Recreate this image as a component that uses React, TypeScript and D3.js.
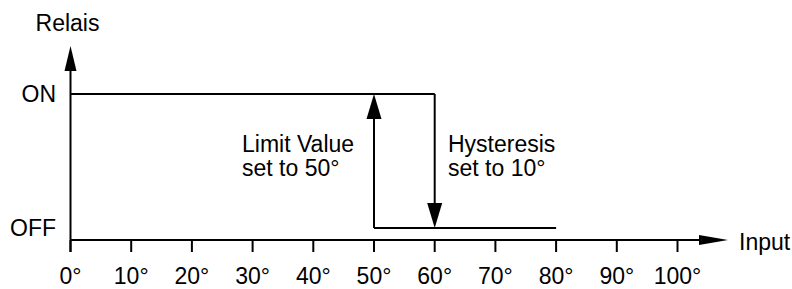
import React from "react";
import * as d3 from "d3";

// Input axis ticks (degrees)
const inputTicks = [0, 10, 20, 30, 40, 50, 60, 70, 80, 90, 100];

// Relay states: 0 = OFF, 1 = ON
const stateLabels = ["OFF", "ON"];

// Relay ON line, then switch-off at limit + hysteresis
const onLine = [
    { input: 0, state: 1 },
    { input: 60, state: 1 },
];

// Relay OFF line after switching
const offLine = [
    { input: 50, state: 0 },
    { input: 80, state: 0 },
];

// Transition arrows: [input, fromState, toState]
const switchArrows = [
    { input: 50, from: 0, to: 1 },
    { input: 60, from: 1, to: 0 },
];

const limitText = ["Limit Value", "set to 50°"];
const hysteresisText = ["Hysteresis", "set to 10°"];

const WIDTH = 792;
const HEIGHT = 289;
const FONT = "'Liberation Sans', Arial, Helvetica, sans-serif";

export default function App(): React.ReactElement {
    const x = d3.scaleLinear().domain([0, 100]).range([70.5, 677.5]);
    const y = d3.scaleLinear().domain([0, 1]).range([228, 94]);

    const axisY = 240;
    const x0 = x(0);

    const line = d3.line<{ input: number; state: number }>()
        .x((d) => x(d.input))
        .y((d) => y(d.state));

    // arrow head polygon with tip at (tx, ty), pointing in direction (dx, dy)
    const head = (tx: number, ty: number, dx: number, dy: number, len: number, half: number): string => {
        const bx = tx - dx * len;
        const by = ty - dy * len;
        const px = -dy * half;
        const py = dx * half;
        return `${tx},${ty} ${bx + px},${by + py} ${bx - px},${by - py}`;
    };

    return (
        <svg
            width={WIDTH}
            height={HEIGHT}
            style={{ position: "absolute", left: 0, top: 0, background: "#fff" }}
            fontFamily={FONT}
            fontSize={23}
        >
            {/* Y axis with arrow */}
            <line x1={x0} x2={x0} y1={252} y2={62} stroke="#000" strokeWidth={2} />
            <polygon points={head(x0, 46, 0, -1, 25, 6)} fill="#000" />
            <text x={x0 - 3} y={31} textAnchor="middle">Relais</text>

            {/* X axis with arrow */}
            <line x1={x0} x2={712} y1={axisY} y2={axisY} stroke="#000" strokeWidth={2} />
            <polygon points={head(728, axisY, 1, 0, 29, 5)} fill="#000" />
            <text x={739} y={250}>Input</text>

            {inputTicks.map((t) => (
                <g key={t} transform={`translate(${x(t)},0)`}>
                    <line y1={axisY} y2={252} stroke="#000" strokeWidth={2} />
                    <text y={284} textAnchor="middle">{`${t}°`}</text>
                </g>
            ))}

            {stateLabels.map((s, i) => (
                <text key={s} x={56} y={y(i)} dy="0.35em" textAnchor="end">{s}</text>
            ))}

            {/* Relay characteristic */}
            <path d={line(onLine) ?? ""} fill="none" stroke="#000" strokeWidth={2} />
            <path d={line(offLine) ?? ""} fill="none" stroke="#000" strokeWidth={2} />

            {switchArrows.map((a) => {
                const dir = a.to > a.from ? -1 : 1;
                const tipY = y(a.to);
                return (
                    <g key={a.input}>
                        <line
                            x1={x(a.input)} x2={x(a.input)}
                            y1={y(a.from)} y2={tipY - dir * 20}
                            stroke="#000" strokeWidth={2}
                        />
                        <polygon points={head(x(a.input), tipY, 0, dir, 25, 7.5)} fill="#000" />
                    </g>
                );
            })}

            <text x={242} y={151.5}>
                {limitText.map((t, i) => (
                    <tspan key={t} x={242} dy={i === 0 ? 0 : 24}>{t}</tspan>
                ))}
            </text>
            <text x={448} y={151.5}>
                {hysteresisText.map((t, i) => (
                    <tspan key={t} x={448} dy={i === 0 ? 0 : 24}>{t}</tspan>
                ))}
            </text>
        </svg>
    );
}
